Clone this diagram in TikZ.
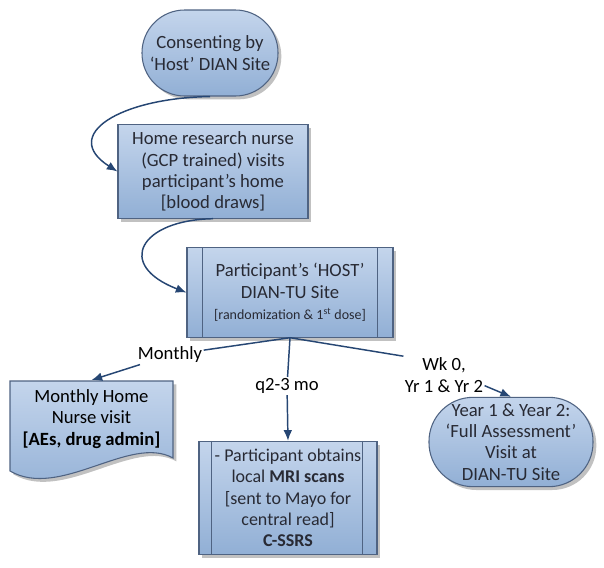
\documentclass[tikz,border=0pt]{standalone}
\usepackage{fontspec}
\setmainfont{Carlito}
\usetikzlibrary{arrows.meta,shadows}
\definecolor{boxtop}{RGB}{196,213,236}
\definecolor{boxbottom}{RGB}{145,175,213}
\definecolor{boxline}{RGB}{79,99,130}
\definecolor{linkblue}{RGB}{38,70,115}
\definecolor{boxtext}{RGB}{40,42,52}
\tikzset{%
    every node/.style={align=center, font=\fontsize{14}{16}\selectfont},
    box/.style={draw=boxline, line width=.8pt, top color=boxtop,
    	bottom color=boxbottom, text=boxtext, inner sep=1pt,
    	drop shadow={shadow xshift=2.5pt, shadow yshift=-2.5pt,
    	opacity=.35, fill=black!70}},
    pill/.style={box, rounded corners=#1},
    link/.style={draw=linkblue, line width=1.1pt},
    arrow/.style={link, -{Latex[length=8pt, width=6.5pt]}}
}

\begin{document}
\begin{tikzpicture}[x=0.75pt, y=-0.75pt]
	\useasboundingbox (0,0) rectangle (604,568);
	\node [pill=32pt, minimum width=102pt, minimum height=64.5pt] (consent) at (210,53) {Consenting by\\‘Host’ DIAN Site};
	\node [box, minimum width=142.5pt, minimum height=70pt] (nurse) at (213,171.5) {Home research nurse\\(GCP trained) visits\\participant’s home\\{}[blood draws]};
	\node [box, minimum width=154.5pt, minimum height=67pt] (site) at (290,292.5) {Participant’s ‘HOST’\\DIAN-TU Site\\{\fontsize{10.5}{13}\selectfont [randomization \& 1\textsuperscript{st} dose]}};
	\draw [box] (10,381) -- (173,381) -- (173,458) .. controls (130,434) and (60,500) .. (10,471) -- cycle;
	\node [minimum width=122pt, minimum height=58pt] (home) at (91.5,419) {Monthly Home\\Nurse visit\\\textbf{[AEs, drug admin]}};
	\node [box, minimum width=133.5pt, minimum height=85pt, font=\fontsize{13.5}{16}\selectfont] (mri) at (288,498) {- Participant obtains\\local \textbf{MRI scans}\\{}[sent to Mayo for\\central read]\\\textbf{C-SSRS}};
	\node [pill=33pt, inner sep=0pt, minimum width=123pt, minimum height=67pt] (full) at (511,442) {Year 1 \& Year 2:\\‘Full Assessment’\\Visit at\\DIAN-TU Site};
	% inner bars of the process boxes
	\draw [boxline, line width=.8pt] ([xshift=12pt]site.north west) -- ([xshift=12pt]site.south west)
		([xshift=-12pt]site.north east) -- ([xshift=-12pt]site.south east);
	\draw [boxline, line width=.8pt] ([xshift=10pt]mri.north west) -- ([xshift=10pt]mri.south west)
		([xshift=-11pt]mri.north east) -- ([xshift=-11pt]mri.south east);
	% branch labels
	\node [inner sep=1pt] (monthly) at (170,355) {Monthly};
	\node [inner sep=1pt] (often) at (287,386) {q2-3 mo};
	\node [inner sep=1pt] (yearly) at (444,375) {Wk 0,\\Yr 1 \& Yr 2};
	\draw [arrow] (consent.south) .. controls (120,98) and (60,135) .. (nurse.west);
	\draw [arrow] (nurse.south) .. controls (140,220) and (115,265) .. (site.west);
	\draw [link] (site.south) -- (monthly);
	\draw [arrow] (monthly) -- (home.north);
	\draw [link] (site.south) -- (yearly.north west);
	\draw [link] (site.south) -- (often);
	\draw [arrow] (often) -- (mri.north);
	\draw [arrow] ([yshift=-8pt]yearly.east) -- (full.north);
\end{tikzpicture}
\end{document}
